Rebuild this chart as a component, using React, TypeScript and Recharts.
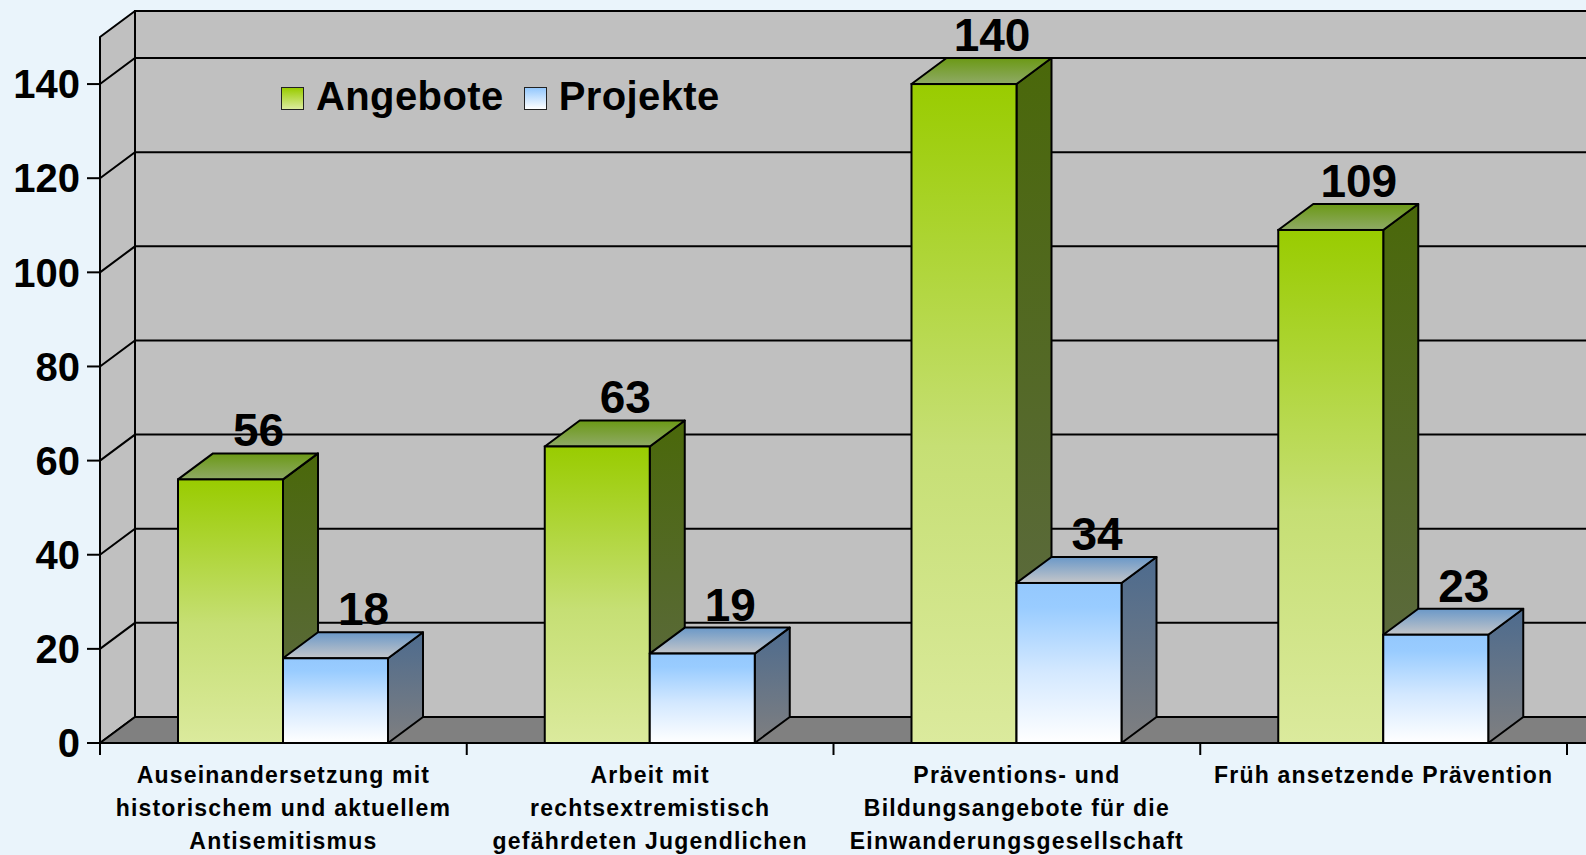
import React from 'react';
import { BarChart, Bar, XAxis, YAxis, ReferenceArea, LabelList, Legend } from 'recharts';

const categories = [
  'Auseinandersetzung mit\nhistorischem und aktuellem\nAntisemitismus',
  'Arbeit mit\nrechtsextremistisch\ngefährdeten Jugendlichen',
  'Präventions- und\nBildungsangebote für die\nEinwanderungsgesellschaft',
  'Früh ansetzende Prävention',
];
const angebote = [56, 63, 140, 109];
const projekte = [18, 19, 34, 23];
const yTicks = [0, 20, 40, 60, 80, 100, 120, 140];
const yMax = 150;
const seriesNames = ['Angebote', 'Projekte'];

const data = categories.map((c, i) => ({ category: c, angebote: angebote[i], projekte: projekte[i] }));

const FONT = '"Liberation Sans", Arial, Helvetica, sans-serif';
const DX = 35;
const DY = 26;

const Defs = () => (
  <defs>
    <linearGradient id="gFront" x1="0" y1="0" x2="0" y2="1">
      <stop offset="0" stopColor="#99cc00" />
      <stop offset="0.55" stopColor="#c6df74" />
      <stop offset="1" stopColor="#dbea9d" />
    </linearGradient>
    <linearGradient id="gSide" x1="0" y1="0" x2="0" y2="1">
      <stop offset="0" stopColor="#4a680a" />
      <stop offset="1" stopColor="#5f6a48" />
    </linearGradient>
    <linearGradient id="gTop" x1="0" y1="0" x2="0" y2="1">
      <stop offset="0" stopColor="#6b9915" />
      <stop offset="1" stopColor="#8faa66" />
    </linearGradient>
    <linearGradient id="bFront" x1="0" y1="0" x2="0" y2="1">
      <stop offset="0" stopColor="#94c8fd" />
      <stop offset="0.15" stopColor="#99ccff" />
      <stop offset="0.55" stopColor="#d3e8ff" />
      <stop offset="1" stopColor="#ffffff" />
    </linearGradient>
    <linearGradient id="bSide" x1="0" y1="0" x2="0" y2="1">
      <stop offset="0" stopColor="#4d6b8e" />
      <stop offset="1" stopColor="#7f7f80" />
    </linearGradient>
    <linearGradient id="bTop" x1="0" y1="0" x2="0" y2="1">
      <stop offset="0" stopColor="#6a98c8" />
      <stop offset="1" stopColor="#c4c6c9" />
    </linearGradient>
  </defs>
);

const Walls = (p: any) => {
  const { x, y, width: w, height: h } = p;
  const b = y + h;
  return (
    <g>
      <Defs />
      <rect x={x + DX} y={y - DY} width={w + 60} height={h} fill="#c0c0c0" stroke="#000" strokeWidth={2} />
      <polygon
        points={`${x},${y} ${x + DX},${y - DY} ${x + DX},${b - DY} ${x},${b}`}
        fill="#c0c0c0"
        stroke="#000"
        strokeWidth={2}
        strokeLinejoin="round"
      />
      <polygon
        points={`${x},${b} ${x + DX},${b - DY} ${x + w + DX + 60},${b - DY} ${x + w + 60},${b}`}
        fill="#808080"
        stroke="#000"
        strokeWidth={2}
        strokeLinejoin="round"
      />
      {yTicks
        .filter((t) => t > 0)
        .map((t) => {
          const ty = y + h * (1 - t / yMax);
          return (
            <polyline
              key={t}
              points={`${x},${ty} ${x + DX},${ty - DY} ${x + w + DX + 60},${ty - DY}`}
              fill="none"
              stroke="#000"
              strokeWidth={2}
            />
          );
        })}
    </g>
  );
};

const Bar3D = (p: any) => {
  const { x, y, width: w, height: h, kind } = p;
  const pre = kind === 'g' ? 'g' : 'b';
  const b = y + h;
  return (
    <g>
      <polygon
        points={`${x + w},${y} ${x + w + DX},${y - DY} ${x + w + DX},${b - DY} ${x + w},${b}`}
        fill={`url(#${pre}Side)`}
        stroke="#000"
        strokeWidth={2}
        strokeLinejoin="round"
      />
      <polygon
        points={`${x},${y} ${x + DX},${y - DY} ${x + w + DX},${y - DY} ${x + w},${y}`}
        fill={`url(#${pre}Top)`}
        stroke="#000"
        strokeWidth={2}
        strokeLinejoin="round"
      />
      <rect x={x} y={y} width={w} height={h} fill={`url(#${pre}Front)`} stroke="#000" strokeWidth={2} />
    </g>
  );
};

const DataLabel = (p: any) => (
  <text
    x={Number(p.x) + Number(p.width) / 2 + 28}
    y={Number(p.y) - 33}
    textAnchor="middle"
    fontSize={46}
    fontWeight={700}
    fontFamily={FONT}
    fill="#000"
  >
    {p.value}
  </text>
);

const XTick = (p: any) => {
  const { x, y, payload } = p;
  const half = payload && payload.offset ? payload.offset : 0;
  const idx = payload && payload.index != null ? payload.index : p.index;
  const lines = String(payload.value).split('\n');
  return (
    <g>
      <line x1={x - half} x2={x - half} y1={y} y2={y + 12} stroke="#000" strokeWidth={2} />
      {idx === categories.length - 1 && (
        <line x1={x + half} x2={x + half} y1={y} y2={y + 12} stroke="#000" strokeWidth={2} />
      )}
      <text
        x={x}
        y={y + 40}
        textAnchor="middle"
        fontSize={23}
        fontWeight={700}
        fontFamily={FONT}
        fill="#000"
        style={{ letterSpacing: '1.2px' }}
      >
        {lines.map((l, i) => (
          <tspan key={i} x={x} dy={i === 0 ? 0 : 33}>
            {l}
          </tspan>
        ))}
      </text>
    </g>
  );
};

const swatches = ['linear-gradient(#99cc00, #dcec9e)', 'linear-gradient(#94c8fd, #ffffff)'];

const LegendContent = (p: any) => {
  const items = p.payload && p.payload.length ? p.payload : seriesNames.map((n) => ({ value: n }));
  return (
    <div style={{ display: 'flex', alignItems: 'flex-start', fontFamily: FONT }}>
      {items.map((it: any, i: number) => (
        <div key={i} style={{ display: 'flex', alignItems: 'flex-start', marginRight: 20 }}>
          <div
            style={{
              width: 21,
              height: 21,
              marginTop: 12,
              border: '1.5px solid #222',
              background: swatches[i],
            }}
          />
          <span
            style={{
              marginLeft: 12,
              fontSize: 40,
              fontWeight: 700,
              lineHeight: '42px',
              letterSpacing: '0.4px',
              color: '#000',
            }}
          >
            {it.value}
          </span>
        </div>
      ))}
    </div>
  );
};

export default function App() {
  return (
    <div style={{ position: 'absolute', left: 0, top: 0, width: 1586, height: 855, background: '#eaf4fb', overflow: 'hidden' }}>
      <BarChart
        width={1586}
        height={855}
        data={data}
        margin={{ top: 37, right: 19, bottom: 12, left: 20 }}
        barCategoryGap={78}
        barGap={0}
      >
        <ReferenceArea y1={0} y2={yMax} shape={Walls} ifOverflow="visible" />
        <XAxis
          dataKey="category"
          height={100}
          tickSize={0}
          tickMargin={0}
          tickLine={false}
          axisLine={{ stroke: '#000', strokeWidth: 2 }}
          interval={0}
          tick={(p: any) => <XTick {...p} />}
        />
        <YAxis
          type="number"
          domain={[0, yMax]}
          ticks={yTicks}
          interval={0}
          width={80}
          tickSize={13}
          tickMargin={7}
          axisLine={{ stroke: '#000', strokeWidth: 2 }}
          tickLine={{ stroke: '#000', strokeWidth: 2 }}
          tick={{ fill: '#000', fontSize: 40, fontWeight: 700, fontFamily: FONT }}
        />
        <Legend
          layout="vertical"
          align="center"
          verticalAlign="middle"
          wrapperStyle={{ left: 281, top: 75, width: 'auto' }}
          content={(p: any) => <LegendContent {...p} />}
        />
        <Bar
          dataKey="angebote"
          name={seriesNames[0]}
          fill="#99cc00"
          isAnimationActive={false}
          shape={(p: any) => <Bar3D {...p} kind="g" />}
        >
          <LabelList dataKey="angebote" content={DataLabel} />
        </Bar>
        <Bar
          dataKey="projekte"
          name={seriesNames[1]}
          fill="#99ccff"
          isAnimationActive={false}
          shape={(p: any) => <Bar3D {...p} kind="b" />}
        >
          <LabelList dataKey="projekte" content={DataLabel} />
        </Bar>
      </BarChart>
    </div>
  );
}
